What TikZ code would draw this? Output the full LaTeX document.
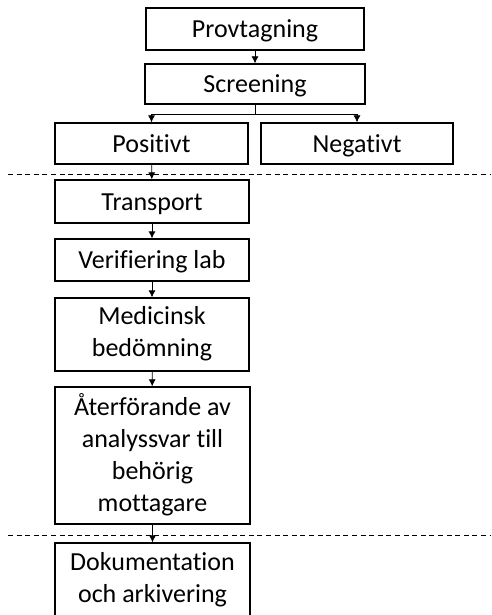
\documentclass[tikz,border=0pt]{standalone}
\usepackage{fontspec}
\setmainfont{Carlito}[Ligatures={NoCommon}]
\usetikzlibrary{arrows.meta}

\begin{document}
\begin{tikzpicture}[x=1pt,y=-1pt,>={Latex[length=7pt,width=7pt]},font=\fontsize{26}{32}\selectfont]
  \tikzstyle{box}=[draw,line width=1.3pt,inner sep=0pt,align=center,
    execute at begin node={\rule{0pt}{24pt}},
    execute at end node={\rule[-7pt]{0pt}{7pt}}]
  \tikzstyle{flow}=[->,line width=0.8pt]
  \tikzstyle{divider}=[line width=1pt,dash pattern=on 5pt off 3.6pt]
  \useasboundingbox (0,0) rectangle (491,615);
  \clip (0,0) rectangle (491,615);

  % Steps
  \node[box,minimum width=218pt,minimum height=42pt] (prov) at (255,29) {Provtagning};
  \node[box,minimum width=220pt,minimum height=40pt] (scr) at (255,84) {Screening};
  \node[box,minimum width=193pt,minimum height=41pt] (pos) at (151.5,143.5) {Positivt};
  \node[box,minimum width=192pt,minimum height=41pt] (neg) at (357,143.5) {Negativt};
  \node[box,minimum width=194pt,minimum height=43pt] (trans) at (152,201.5) {Transport};
  \node[box,minimum width=194pt,minimum height=42pt] (verif) at (152,260) {Verifiering lab};
  \node[box,minimum width=194pt,minimum height=73pt] (med) at (152,334.5) {Medicinsk\\bedömning};
  \node[box,minimum width=195pt,minimum height=137pt] (ater) at (152.5,455.5) {Återförande av\\analyssvar till\\behörig\\mottagare};
  \node[box,minimum width=195pt,minimum height=75pt] (dok) at (152.5,580.5) {Dokumentation\\och arkivering};

  % Dividers
  \coordinate (d1l) at (8,174);
  \coordinate (d1r) at (491,174);
  \coordinate (d2l) at (8,535);
  \coordinate (d2r) at (491,535);
  \draw[divider] (d1l) -- (d1r);
  \draw[divider] (d2l) -- (d2r);

  % Arrows
  \draw[flow] (prov) -- (scr);
  \draw[flow] (scr.south) -- ++(0,10) -| (pos.north);
  \draw[flow] (scr.south) -- ++(0,10) -| (neg.north);
  \draw[flow] (pos) -- (trans);
  \draw[flow] (trans) -- (verif);
  \draw[flow] (verif) -- (med);
  \draw[flow] (med) -- (ater);
  \draw[flow] (ater) -- (dok);
\end{tikzpicture}
\end{document}
